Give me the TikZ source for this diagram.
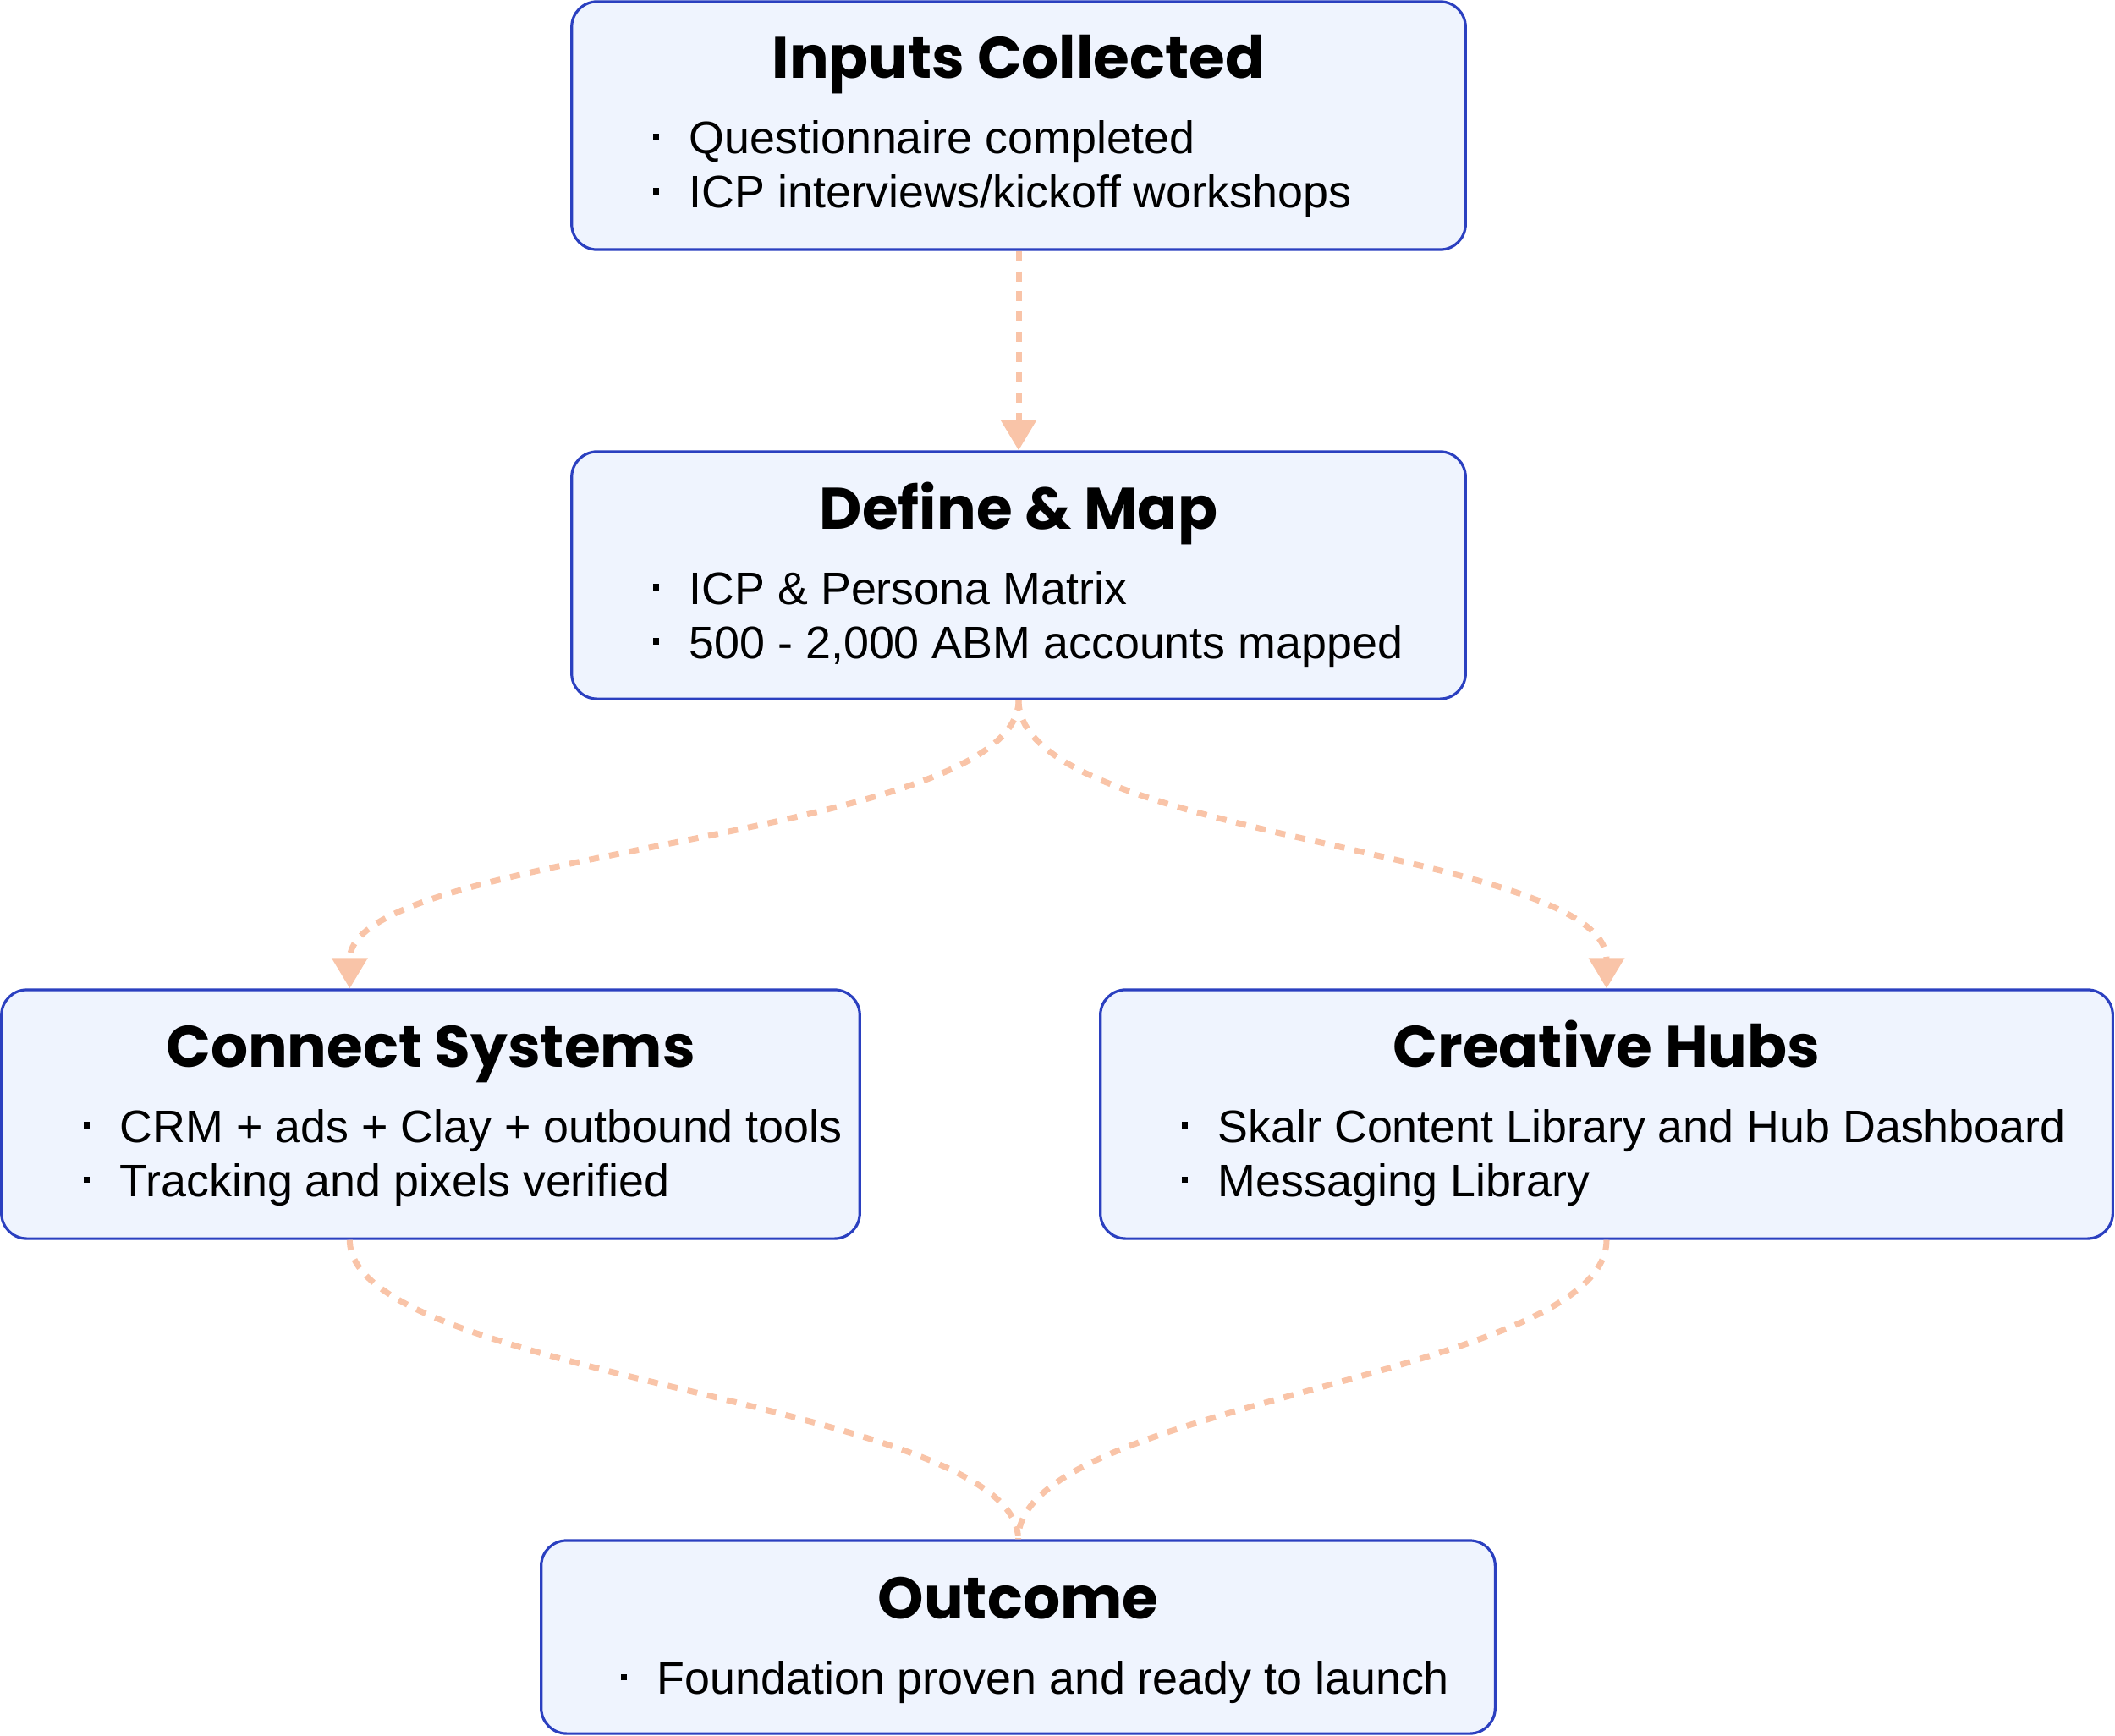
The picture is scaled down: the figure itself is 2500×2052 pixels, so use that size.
\documentclass[tikz,border=0pt]{standalone}
\usepackage{fontspec}
\setmainfont{Liberation Sans}
\newfontfamily\titlefont{Poppins}
\usetikzlibrary{arrows.meta}
\definecolor{boxfill}{HTML}{EFF4FE}
\definecolor{boxline}{HTML}{2B40C0}
\definecolor{flowc}{HTML}{F9C4A8}
\tikzset{
  box/.style={draw=boxline, line width=0.9pt, fill=boxfill, rounded corners=0.3cm, inner sep=0pt},
  ttl/.style={inner sep=0pt, anchor=base, font=\titlefont\bfseries\fontsize{19.7pt}{24pt}\selectfont},
  item/.style={inner sep=0pt, anchor=base west, font=\fontsize{15.3pt}{18pt}\selectfont},
  flow/.style={draw=flowc, line width=2pt, dash pattern=on 3.4pt off 3.4pt},
  tip/.style={-{Triangle[length=3.6mm, width=4.1mm, fill=flowc]}},
}
\newcommand{\bul}{\makebox[0.43cm][l]{\rule[0.16cm]{0.075cm}{0.075cm}}}
\begin{document}
\begin{tikzpicture}[x=0.01cm, y=-0.01cm]
\useasboundingbox (0,0) rectangle (2500,2052);
% boxes
\node[box, minimum width=10.56cm, minimum height=2.93cm] (b1) at (1204,148.5) {};
\node[box, minimum width=10.56cm, minimum height=2.92cm] (b2) at (1204,680) {};
\node[box, minimum width=10.14cm, minimum height=2.94cm] (b3) at (509,1317) {};
\node[box, minimum width=11.96cm, minimum height=2.94cm] (b4) at (1899,1317) {};
\node[box, minimum width=11.27cm, minimum height=2.28cm] (b5) at (1203.5,1935) {};
% texts
\node[ttl] (t1) at (1204,93) {Inputs Collected};
\node[item] (l11) at (771,182) {\bul Questionnaire completed};
\node[item] (l12) at (771,246) {\bul ICP interviews/kickoff workshops};
\node[ttl] (t2) at (1204,625) {Define \& Map};
\node[item] (l21) at (771,714) {\bul ICP \& Persona Matrix};
\node[item] (l22) at (771,778) {\bul 500 - 2,000 ABM accounts mapped};
\node[ttl] (t3) at (509,1261) {Connect Systems};
\node[item] (l31) at (98,1350) {\bul CRM + ads + Clay + outbound tools};
\node[item] (l32) at (98,1414) {\bul Tracking and pixels verified};
\node[ttl] (t4) at (1899,1261) {Creative Hubs};
\node[item] (l41) at (1396,1350) {\bul Skalr Content Library and Hub Dashboard};
\node[item] (l42) at (1396,1414) {\bul Messaging Library};
\node[ttl] (t5) at (1203.5,1913) {Outcome};
\node[item] (l51) at (733,2002) {\bul Foundation proven and ready to launch};
% connectors
\coordinate (b3in) at ([xshift=4.13cm]b3.north west);
\coordinate (b3out) at ([xshift=4.13cm]b3.south west);
\draw[flow, tip] (b1.south) -- (b2.north);
\draw[flow, tip] (b2.south) .. controls +(0,165) and +(0,-165) .. (b3in);
\draw[flow, tip] (b2.south) .. controls +(0,165) and +(0,-165) .. (b4.north);
\draw[flow] (b3out) .. controls +(0,162) and +(0,-162) .. (b5.north);
\draw[flow] (b4.south) .. controls +(0,162) and +(0,-162) .. (b5.north);
\end{tikzpicture}
\end{document}
